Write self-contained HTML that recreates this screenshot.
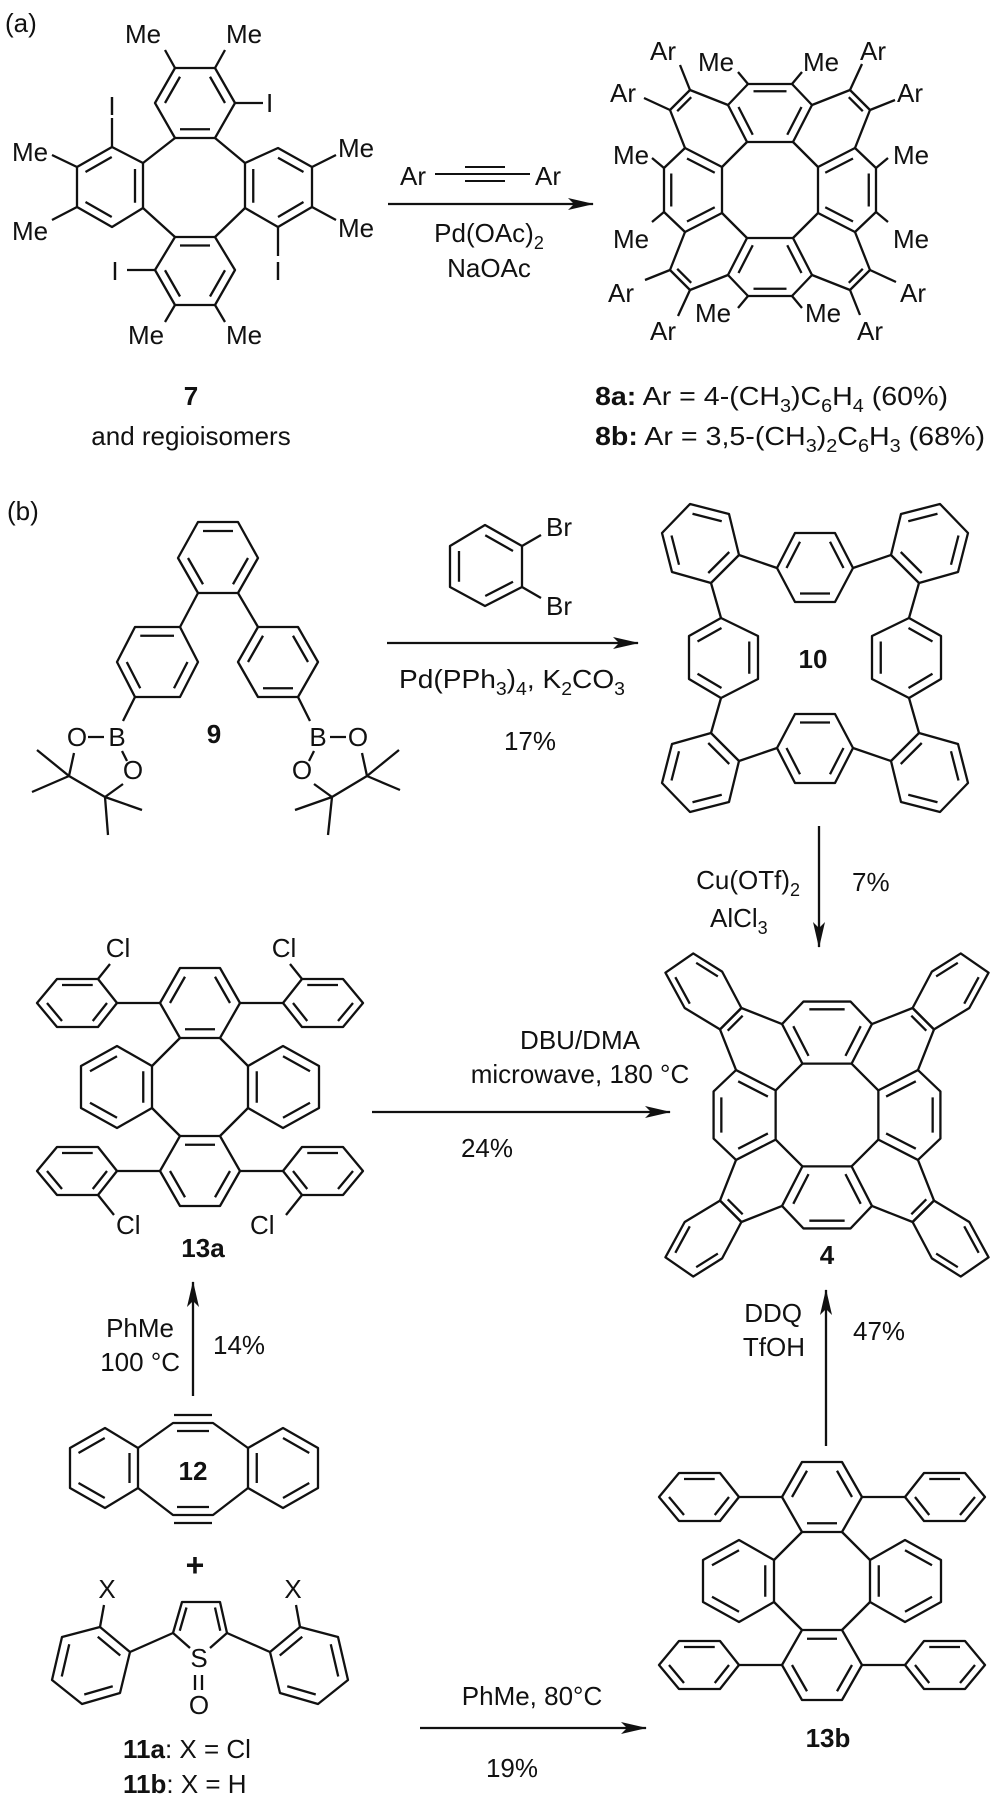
<!DOCTYPE html>
<html><head><meta charset="utf-8"><style>
html,body{margin:0;padding:0;background:#fff}
svg{display:block}
.m polygon,.m path,.m line,.m polyline{fill:none;stroke:#111;stroke-width:2.3;stroke-linejoin:round;vector-effect:non-scaling-stroke}
text{font-family:"Liberation Sans",Arial,sans-serif;font-size:26px;fill:#111}
.b{font-weight:bold}
.mid{text-anchor:middle}
.end{text-anchor:end}
</style></head><body>
<svg width="1000" height="1812" viewBox="0 0 1000 1812" xmlns="http://www.w3.org/2000/svg">
<defs>
<marker id="ah" markerWidth="26" markerHeight="12" refX="25" refY="6" orient="auto" markerUnits="userSpaceOnUse"><path d="M0,0 L26,6 L0,12 L6,6 z" fill="#111"/></marker>
<g id="T" class="m">
<polygon points="-23,-48 23,-48 42,-85 22,-106 -22,-106 -42,-85"/>
<path transform="matrix(.75,0,0,.75,0,-19.25)" d="M23,-48L42,-85M22,-106L-22,-106M-42,-85L-23,-48"/>
<path d="M-23,-48L-48,-23M-42,-85L-80,-100L-100,-80L-85,-42M-78.8,-92.8L-92.8,-78.8"/>
</g>
<g id="T8" class="m"><use href="#T"/><path d="M-80,-100L-90,-125M-100,-80L-126,-92M-22,-106L-32,-118M22,-106L32,-118"/></g>
<g id="B" class="m"><polygon points="-80,-100 -100,-80 -133,-100 -151,-133 -125,-151 -98,-134"/>
<path transform="matrix(.75,0,0,.75,-28.5,-29)" d="M-133,-100L-151,-133M-125,-151L-98,-134"/></g>
<g id="S" class="m">
<polygon points="-20,-49 20,-49 40,-84 20,-119 -20,-119 -40,-84"/>
<path transform="matrix(.75,0,0,.75,0,-21)" d="M-20,-49L20,-49M40,-84L20,-119M-20,-119L-40,-84"/>
<polygon points="-20,49 20,49 40,84 20,119 -20,119 -40,84"/>
<path transform="matrix(.75,0,0,.75,0,21)" d="M-20,49L20,49M40,84L20,119M-20,119L-40,84"/>
<polygon points="-48,-21 -83,-41 -119,-21 -119,21 -83,41 -48,21"/>
<path transform="matrix(.75,0,0,.75,-20.75,0)" d="M-48,21L-48,-21M-83,-41L-119,-21M-119,21L-83,41"/>
<polygon points="48,-21 83,-41 119,-21 119,21 83,41 48,21"/>
<path transform="matrix(.75,0,0,.75,20.75,0)" d="M48,21L48,-21M83,-41L119,-21M119,21L83,41"/>
<path d="M-20,-49L-48,-21M20,-49L48,-21M-20,49L-48,21M20,49L48,21M-40,-84L-83,-84M40,-84L83,-84M-40,84L-83,84M40,84L83,84"/>
<polygon points="-83,-84 -102,-108 -143,-108 -163,-84 -143,-60 -102,-60"/>
<path transform="matrix(.75,0,0,.75,-30.75,-21)" d="M-102,-108L-143,-108M-163,-84L-143,-60M-102,-60L-83,-84"/>
<polygon points="83,-84 102,-108 143,-108 163,-84 143,-60 102,-60"/>
<path transform="matrix(.75,0,0,.75,30.75,-21)" d="M102,-108L143,-108M163,-84L143,-60M102,-60L83,-84"/>
<polygon points="-83,84 -102,108 -143,108 -163,84 -143,60 -102,60"/>
<path transform="matrix(.75,0,0,.75,-30.75,21)" d="M-83,84L-102,108M-143,108L-163,84M-143,60L-102,60"/>
<polygon points="83,84 102,108 143,108 163,84 143,60 102,60"/>
<path transform="matrix(.75,0,0,.75,30.75,21)" d="M83,84L102,108M143,108L163,84M143,60L102,60"/>
</g>
</defs>

<!-- (a) -->
<text x="5" y="32">(a)</text>
<g class="m">
<path d="M175,138L143,163M215,138L245,163M245,208L215,237M143,208L175,237"/>
<polygon points="175,138 215,138 235,103 215,68 175,68 155,103"/>
<path transform="matrix(.75,0,0,.75,48.75,25.75)" d="M175,138L215,138M235,103L215,68M175,68L155,103"/>
<polygon points="143,163 112,147 77,167 77,207 112,227 143,208"/>
<path transform="matrix(.75,0,0,.75,27.75,46.75)" d="M143,208L143,163M112,147L77,167M77,207L112,227"/>
<polygon points="245,163 278,148 312,167 312,207 278,227 245,208"/>
<path transform="matrix(.75,0,0,.75,69.5,46.75)" d="M245,208L245,163M278,148L312,167M312,207L278,227"/>
<polygon points="175,237 215,237 235,270 215,305 175,305 155,270"/>
<path transform="matrix(.75,0,0,.75,48.75,67.75)" d="M175,237L215,237M235,270L215,305M175,305L155,270"/>
<path d="M175,68L165,50M215,68L225,50M235,103L263,103M112,147L112,118M77,167L52,155M77,207L52,220M312,167L336,155M312,207L336,220M278,227L278,256M155,270L127,270M175,305L165,322M215,305L225,322"/>
<path d="M435,174L530,174M465,167L505,167M465,181L505,181" style="stroke-width:2"/>
<line x1="388" y1="204" x2="593" y2="204" marker-end="url(#ah)"/>
</g>
<text x="125" y="43">Me</text><text x="226" y="43">Me</text>
<text x="266" y="112">I</text><text class="mid" x="112" y="115">I</text>
<text x="12" y="161">Me</text><text x="12" y="240">Me</text>
<text x="338" y="157">Me</text><text x="338" y="237">Me</text>
<text class="mid" x="278" y="280">I</text><text class="mid" x="115" y="280">I</text>
<text x="128" y="344">Me</text><text x="226" y="344">Me</text>
<text class="b mid" x="191" y="405">7</text>
<text class="mid" x="191" y="445">and regioisomers</text>
<text x="400" y="185">Ar</text><text x="535" y="185">Ar</text>
<text class="mid" x="489" y="242">Pd(OAc)<tspan font-size="18" dy="7">2</tspan></text>
<text class="mid" x="489" y="277">NaOAc</text>

<g transform="translate(770,190)">
<use href="#T8"/><use href="#T8" transform="rotate(90)"/><use href="#T8" transform="rotate(180)"/><use href="#T8" transform="rotate(270)"/>
</g>
<text x="650" y="60">Ar</text><text x="698" y="71">Me</text><text x="803" y="71">Me</text><text x="860" y="60">Ar</text>
<text x="610" y="102">Ar</text><text x="897" y="102">Ar</text>
<text x="613" y="164">Me</text><text x="893" y="164">Me</text>
<text x="613" y="248">Me</text><text x="893" y="248">Me</text>
<text x="608" y="302">Ar</text><text x="900" y="302">Ar</text>
<text x="695" y="322">Me</text><text x="805" y="322">Me</text>
<text x="650" y="340">Ar</text><text x="857" y="340">Ar</text>
<text x="595" y="405" textLength="353" lengthAdjust="spacingAndGlyphs"><tspan class="b">8a:</tspan> Ar = 4-(CH<tspan font-size="18" dy="7">3</tspan><tspan dy="-7">)C</tspan><tspan font-size="18" dy="7">6</tspan><tspan dy="-7">H</tspan><tspan font-size="18" dy="7">4</tspan><tspan dy="-7"> (60%)</tspan></text>
<text x="595" y="445" textLength="390" lengthAdjust="spacingAndGlyphs"><tspan class="b">8b:</tspan> Ar = 3,5-(CH<tspan font-size="18" dy="7">3</tspan><tspan dy="-7">)</tspan><tspan font-size="18" dy="7">2</tspan><tspan dy="-7">C</tspan><tspan font-size="18" dy="7">6</tspan><tspan dy="-7">H</tspan><tspan font-size="18" dy="7">3</tspan><tspan dy="-7"> (68%)</tspan></text>

<text x="7" y="520">(b)</text>
<g class="m">
<polygon points="198,522 238,522 258,558 238,593 198,593 178,558"/>
<path transform="matrix(.75,0,0,.75,54.5,139.5)" d="M198,522L238,522M258,558L238,593M198,593L178,558"/>
<polygon points="135,627 180,627 198,662 180,697 135,697 117,662"/>
<path transform="matrix(.75,0,0,.75,39,165.5)" d="M135,627L180,627M198,662L180,697M135,697L117,662"/>
<polygon points="258,627 298,627 318,662 298,697 258,697 238,662"/>
<path transform="matrix(.75,0,0,.75,69.5,165.5)" d="M238,662L258,627M298,627L318,662M298,697L258,697"/>
<path d="M198,593L180,627M238,593L258,627M135,697L123,721M298,697L310,721"/>
<path d="M88,737L104,737M122,751L127,761M74,753L69,776L105,797L123,784M69,776L37,750M69,776L32,792M105,797L142,810M105,797L108,835"/>
<path d="M330,737L346,737M314,751L309,761M362,753L367,776L332,797L314,784M367,776L399,750M367,776L400,790M332,797L295,810M332,797L328,835"/>
<polygon points="485,525 522,546 522,587 485,606 450,587 450,546"/>
<path transform="matrix(.75,0,0,.75,121.5,141.5)" d="M485,525L522,546M522,587L485,606M450,587L450,546"/>
<path d="M522,546L541,535M522,587L541,598"/>
<line x1="387" y1="643" x2="638" y2="643" marker-end="url(#ah)"/>
<polygon points="777,568 795,533 835,533 853,568 835,602 795,602"/>
<path transform="matrix(.75,0,0,.75,203.75,142)" d="M777,568L795,533M835,533L853,568M835,602L795,602"/>
<polygon points="777,748 795,783 835,783 853,748 835,714 795,714"/>
<path transform="matrix(.75,0,0,.75,203.75,187)" d="M777,748L795,783M835,783L853,748M835,714L795,714"/>
<polygon points="721,618 758,636 758,679 721,698 689,679 689,636"/>
<path transform="matrix(.75,0,0,.75,180.75,164.5)" d="M689,636L721,618M758,636L758,679M721,698L689,679"/>
<polygon points="909,618 872,636 872,679 909,698 941,679 941,636"/>
<path transform="matrix(.75,0,0,.75,226.75,164.5)" d="M941,636L909,618M872,636L872,679M909,698L941,679"/>
<polygon points="690,504 729,514 739,555 711,583 672,572 662,533"/>
<path transform="matrix(.75,0,0,.75,175,135.75)" d="M690,504L729,514M739,555L711,583M672,572L662,533"/>
<polygon points="940,504 901,514 891,555 919,583 958,572 968,533"/>
<path transform="matrix(.75,0,0,.75,232.5,135.75)" d="M940,504L901,514M891,555L919,583M958,572L968,533"/>
<polygon points="690,812 729,802 739,761 711,733 672,744 662,783"/>
<path transform="matrix(.75,0,0,.75,175,193.25)" d="M690,812L729,802M739,761L711,733M672,744L662,783"/>
<polygon points="940,812 901,802 891,761 919,733 958,744 968,783"/>
<path transform="matrix(.75,0,0,.75,232.5,193.25)" d="M940,812L901,802M891,761L919,733M958,744L968,783"/>
<path d="M739,555L777,568M891,555L853,568M711,583L721,618M919,583L909,618M721,698L711,733M909,698L919,733M739,761L777,748M891,761L853,748"/>
<line x1="819" y1="826" x2="819" y2="947" marker-end="url(#ah)"/>
<line x1="372" y1="1112" x2="670" y2="1112" marker-end="url(#ah)"/>
<line x1="193" y1="1396" x2="193" y2="1282" marker-end="url(#ah)"/>
<line x1="826" y1="1446" x2="826" y2="1290" marker-end="url(#ah)"/>
<line x1="420" y1="1728" x2="646" y2="1728" marker-end="url(#ah)"/>
<polygon points="105,1428 70,1448 70,1488 105,1508 138,1488 138,1448"/>
<path transform="matrix(.75,0,0,.75,26,367)" d="M105,1428L70,1448M70,1488L105,1508M138,1488L138,1448"/>
<polygon points="283,1428 318,1448 318,1488 283,1508 248,1488 248,1448"/>
<path transform="matrix(.75,0,0,.75,70.75,367)" d="M283,1428L318,1448M318,1488L283,1508M248,1488L248,1448"/>
<path d="M138,1448L173,1423L213,1423L248,1448M138,1488L173,1515L213,1515L248,1488M174,1415L212,1415M177,1431L209,1431M177,1507L209,1507M174,1523L212,1523"/>
<path d="M190,1648L173,1633L182,1602L220,1602L227,1633L210,1648"/>
<path transform="matrix(.75,0,0,.75,50,406)" d="M173,1633L182,1602M220,1602L227,1633"/>
<path d="M195,1675L195,1690M202,1675L202,1690M173,1633L130,1652M227,1633L270,1652M100,1627L104,1605M300,1627L296,1605"/>
<polygon points="100,1627 62,1637 52,1680 82,1704 120,1693 130,1652"/>
<path transform="matrix(.75,0,0,.75,22.75,416.5)" d="M62,1637L52,1680M82,1704L120,1693M130,1652L100,1627"/>
<polygon points="300,1627 338,1637 348,1680 318,1704 280,1693 270,1652"/>
<path transform="matrix(.75,0,0,.75,77.25,416.5)" d="M338,1637L348,1680M318,1704L280,1693M270,1652L300,1627"/>
<path d="M98,979L110,964M302,979L290,964M98,1195L114,1215M302,1195L286,1215"/>
</g>
<use href="#S" x="200" y="1087"/>
<use href="#S" x="822" y="1581"/>
<g transform="translate(827,1115) scale(1.07)">
<use href="#T"/><use href="#T" transform="rotate(90)"/><use href="#T" transform="rotate(180)"/><use href="#T" transform="rotate(270)"/>
<use href="#B"/><use href="#B" transform="scale(-1,1)"/><use href="#B" transform="scale(1,-1)"/><use href="#B" transform="scale(-1,-1)"/>
</g>

<g style="font-size:24px">
<text class="mid" x="77" y="746">O</text><text class="mid" x="117" y="746">B</text><text class="mid" x="133" y="779">O</text>
<text class="mid" x="318" y="746">B</text><text class="mid" x="358" y="746">O</text><text class="mid" x="302" y="779">O</text>
</g>
<text class="b mid" x="214" y="743">9</text>
<text x="546" y="536">Br</text><text x="546" y="615">Br</text>
<text class="mid" x="512" y="688" textLength="226" lengthAdjust="spacingAndGlyphs">Pd(PPh<tspan font-size="18" dy="7">3</tspan><tspan dy="-7">)</tspan><tspan font-size="18" dy="7">4</tspan><tspan dy="-7">, K</tspan><tspan font-size="18" dy="7">2</tspan><tspan dy="-7">CO</tspan><tspan font-size="18" dy="7">3</tspan></text>
<text class="mid" x="530" y="750">17%</text>
<text class="b mid" x="813" y="668">10</text>
<text class="end" x="800" y="889">Cu(OTf)<tspan font-size="18" dy="7">2</tspan></text>
<text x="710" y="927">AlCl<tspan font-size="18" dy="7">3</tspan></text>
<text x="852" y="891">7%</text>
<text class="mid" x="118" y="957">Cl</text><text class="mid" x="284" y="957">Cl</text>
<text x="116" y="1234">Cl</text><text x="250" y="1234">Cl</text>
<text class="b mid" x="203" y="1257">13a</text>
<text class="mid" x="580" y="1049">DBU/DMA</text>
<text class="mid" x="580" y="1083">microwave, 180 °C</text>
<text class="mid" x="487" y="1157">24%</text>
<text class="b mid" x="827" y="1264">4</text>
<text class="end" x="174" y="1337">PhMe</text>
<text class="end" x="180" y="1371">100 °C</text>
<text x="213" y="1354">14%</text>
<text class="end" x="802" y="1322">DDQ</text>
<text class="end" x="805" y="1356">TfOH</text>
<text x="853" y="1340">47%</text>
<text class="b mid" x="193" y="1480">12</text>
<text class="b mid" x="195" y="1576" style="font-size:32px">+</text>
<text class="mid" x="107" y="1598">X</text><text class="mid" x="293" y="1598">X</text>
<text class="mid" x="199" y="1667">S</text><text class="mid" x="199" y="1714">O</text>
<text class="mid" x="532" y="1705">PhMe, 80°C</text>
<text class="mid" x="512" y="1777">19%</text>
<text class="b mid" x="828" y="1747">13b</text>
<text x="123" y="1758"><tspan class="b">11a</tspan>: X = Cl</text>
<text x="123" y="1793"><tspan class="b">11b</tspan>: X = H</text>
</svg>
</body></html>
